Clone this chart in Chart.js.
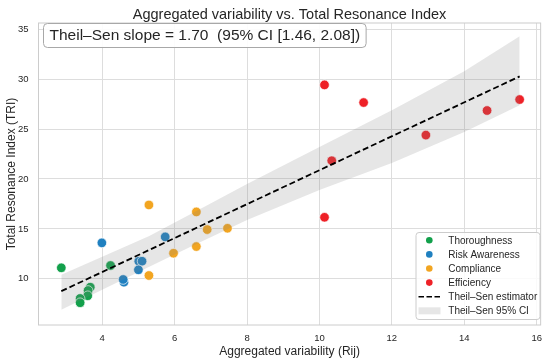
<!DOCTYPE html>
<html>
<head>
<meta charset="utf-8">
<script src="https://cdn.jsdelivr.net/npm/chart.js@4/dist/chart.umd.min.js"></script>
<style>
  html, body { margin: 0; padding: 0; background: #ffffff; }
  #c { display: block; }
</style>
</head>
<body>
<canvas id="c" width="550" height="362"></canvas>
<script>
// ---- data ----
const seriesNames = ["Thoroughness", "Risk Awareness", "Compliance", "Efficiency"];
const thoroughX = [2.87, 4.23, 3.67, 3.61, 3.60, 3.39, 3.39];
const thoroughY = [11.10, 11.33, 9.16, 8.83, 8.30, 8.03, 7.60];
const riskX = [3.99, 4.60, 4.58, 5.01, 5.10, 5.00, 5.74];
const riskY = [13.60, 9.66, 9.93, 11.76, 11.76, 10.90, 14.20];
const complianceX = [5.29, 6.60, 6.90, 7.46, 5.97, 6.60, 5.29];
const complianceY = [17.40, 16.70, 14.93, 15.06, 12.56, 13.23, 10.33];
const efficiencyX = [10.14, 11.22, 10.34, 12.94, 14.63, 15.53, 10.14];
const efficiencyY = [29.43, 27.66, 21.83, 24.40, 26.86, 27.96, 16.16];

const estimatorLabel = "Theil\u2013Sen estimator";
const ciLabel = "Theil\u2013Sen 95% CI";
const lineX = [2.87, 15.53];
const lineY = [8.76, 30.28];
const bandX = [2.87, 4.0, 5.3, 6.5, 8.0, 10.0, 12.0, 14.0, 15.53];
const bandUpper = [10.4, 12.2, 14.3, 16.6, 19.5, 23.2, 26.9, 30.8, 34.3];
const bandLower = [6.9, 8.9, 11.2, 13.3, 15.9, 18.9, 21.6, 24.7, 27.4];

const titleText = "Aggregated variability vs. Total Resonance Index";
const annotationText = "Theil\u2013Sen slope = 1.70  (95% CI [1.46, 2.08])";
const xTitle = "Aggregated variability (Rij)";
const yTitle = "Total Resonance Index (TRI)";

// ---- styles ----
const colors = ["#12a04b", "#1f80c0", "#f2a521", "#ee2127"];
const FONT = "'Liberation Sans', Arial, Helvetica, sans-serif";
const bandFill = "rgba(128,128,128,0.2)";
const textColor = "#262626";

const pts = (xs, ys) => xs.map((x, i) => ({ x: x, y: ys[i] }));
const groupsX = [thoroughX, riskX, complianceX, efficiencyX];
const groupsY = [thoroughY, riskY, complianceY, efficiencyY];

const datasets = [
  {
    type: "line", label: estimatorLabel, data: pts(lineX, lineY),
    borderColor: "#000000", borderWidth: 1.8, borderDash: [6, 3],
    pointRadius: 0, fill: false, tension: 0
  },
  {
    type: "line", label: ciLabel, data: pts(bandX, bandUpper),
    borderWidth: 0, borderColor: "rgba(0,0,0,0)", backgroundColor: bandFill,
    pointRadius: 0, fill: "+1", tension: 0
  },
  {
    type: "line", label: "ci-lower", data: pts(bandX, bandLower),
    borderWidth: 0, borderColor: "rgba(0,0,0,0)", pointRadius: 0, fill: false, tension: 0
  }
];
seriesNames.forEach((name, i) => {
  datasets.push({
    type: "scatter", label: name, data: pts(groupsX[i], groupsY[i]),
    backgroundColor: colors[i], borderColor: "#ffffff", borderWidth: 0.7,
    pointRadius: 4.8, pointHoverRadius: 4.8
  });
});

const decor = {
  id: "decor",
  afterDraw(chart) {
    const ctx = chart.ctx;
    const a = chart.chartArea;
    ctx.save();
    // frame
    ctx.strokeStyle = "#cccccc";
    ctx.lineWidth = 1;
    ctx.strokeRect(a.left, a.top, a.right - a.left, a.bottom - a.top);

    // title
    ctx.fillStyle = textColor;
    ctx.font = "14.5px " + FONT;
    ctx.textAlign = "center";
    ctx.textBaseline = "middle";
    ctx.fillText(titleText, (a.left + a.right) / 2, 14.5);

    // annotation box
    ctx.font = "15.5px " + FONT;
    const tw = ctx.measureText(annotationText).width;
    const bx = a.left + 5, by = a.top + 0.5, bh = 24, bw = tw + 12;
    ctx.beginPath();
    ctx.roundRect(bx, by, bw, bh, 4);
    ctx.fillStyle = "rgba(255,255,255,0.9)";
    ctx.fill();
    ctx.strokeStyle = "#a8a8a8";
    ctx.lineWidth = 1;
    ctx.stroke();
    ctx.fillStyle = textColor;
    ctx.textAlign = "left";
    ctx.textBaseline = "middle";
    ctx.fillText(annotationText, bx + 6, by + bh / 2 + 0.5);

    // legend
    const lx = 416, ly = 232.5, lw = 124, lh = 87;
    ctx.beginPath();
    ctx.roundRect(lx, ly, lw, lh, 3);
    ctx.fillStyle = "rgba(255,255,255,0.85)";
    ctx.fill();
    ctx.strokeStyle = "#cccccc";
    ctx.stroke();
    const labels = seriesNames.concat([estimatorLabel, ciLabel]);
    ctx.font = "10px " + FONT;
    labels.forEach((lab, i) => {
      const cy = 240.3 + i * 14.1;
      if (i < 4) {
        ctx.beginPath();
        ctx.arc(429.3, cy, 3.3, 0, Math.PI * 2);
        ctx.fillStyle = colors[i];
        ctx.fill();
      } else if (i === 4) {
        ctx.beginPath();
        ctx.setLineDash([5.5, 2.5]);
        ctx.moveTo(418.5, cy);
        ctx.lineTo(440.5, cy);
        ctx.strokeStyle = "#000000";
        ctx.lineWidth = 1.6;
        ctx.stroke();
        ctx.setLineDash([]);
      } else {
        ctx.fillStyle = bandFill;
        ctx.fillRect(418.5, cy - 3.5, 22, 7);
      }
      ctx.fillStyle = textColor;
      ctx.textAlign = "left";
      ctx.textBaseline = "middle";
      ctx.fillText(lab, 448.3, cy + 0.5);
    });
    ctx.restore();
  }
};

Chart.defaults.font.family = FONT;
Chart.defaults.color = textColor;

new Chart(document.getElementById("c"), {
  type: "scatter",
  data: { datasets: datasets },
  options: {
    responsive: false,
    devicePixelRatio: 1,
    animation: false,
    layout: { padding: { top: 23, right: 6.5, left: 0, bottom: 0 } },
    plugins: {
      legend: { display: false },
      title: { display: false },
      tooltip: { enabled: false },
      filler: { drawTime: "beforeDatasetDraw" }
    },
    scales: {
      x: {
        type: "linear", min: 2.24, max: 16.11,
        afterFit: s => { s.height = 37; },
        ticks: { stepSize: 2, includeBounds: false, padding: 8, font: { size: 9.5 }, color: textColor },
        grid: { color: "#dddddd", lineWidth: 1, drawTicks: false },
        border: { display: false },
        title: { display: true, text: xTitle, font: { size: 12 }, color: textColor, padding: { top: 0, bottom: 3 } }
      },
      y: {
        type: "linear", min: 5.37, max: 35.63,
        afterFit: s => { s.width = 38.5; },
        ticks: { stepSize: 5, includeBounds: false, padding: 10, font: { size: 9.5 }, color: textColor },
        grid: { color: "#dddddd", lineWidth: 1, drawTicks: false },
        border: { display: false },
        title: { display: true, text: yTitle, font: { size: 12 }, color: textColor, padding: { top: 4, bottom: 0 } }
      }
    }
  },
  plugins: [decor]
});
</script>
</body>
</html>
